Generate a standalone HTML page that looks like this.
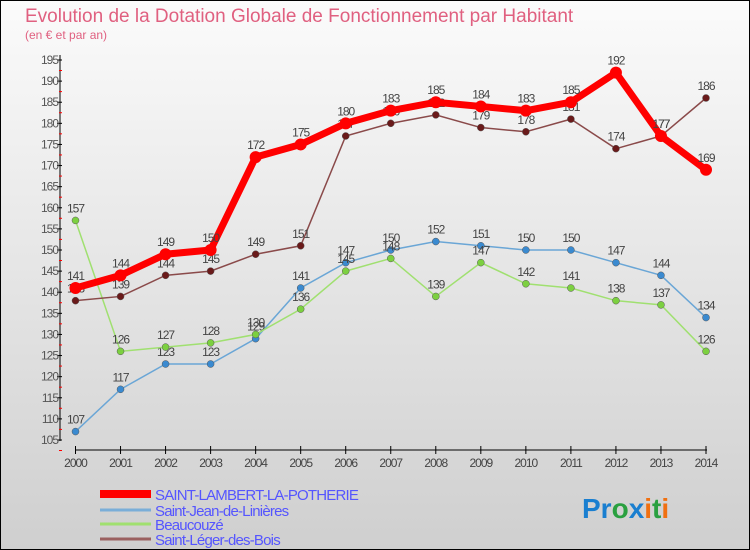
<!DOCTYPE html>
<html><head><meta charset="utf-8"><style>
body{margin:0}
svg{display:block;font-family:"Liberation Sans",sans-serif}
</style></head><body>
<svg width="750" height="550" viewBox="0 0 750 550">
<defs><linearGradient id="bg" x1="0" y1="0" x2="0" y2="1"><stop offset="0" stop-color="#fbfbfb"/><stop offset="1" stop-color="#cfcfcf"/></linearGradient></defs>
<rect x="0.5" y="0.5" width="749" height="549" fill="url(#bg)" stroke="#000"/>
<text x="25" y="22" font-size="19" fill="#e06080">Evolution de la Dotation Globale de Fonctionnement par Habitant</text>
<text x="25" y="39" font-size="12" fill="#e06080">(en € et par an)</text>
<g id="axes"></g>
<g id="series"></g>
<g id="legend"></g>
<text x="582" y="518" font-size="28" font-weight="bold"><tspan fill="#1a7fd0">Pr</tspan><tspan fill="#2aa040">o</tspan><tspan fill="#1a7fd0">x</tspan><tspan fill="#f07010">i</tspan><tspan fill="#2aa040">t</tspan><tspan fill="#f07010">i</tspan></text>
</svg>
<script>
const years=[2000,2001,2002,2003,2004,2005,2006,2007,2008,2009,2010,2011,2012,2013,2014];
const yTicks=[105,110,115,120,125,130,135,140,145,150,155,160,165,170,175,180,185,190,195];
const names=["SAINT-LAMBERT-LA-POTHERIE","Saint-Jean-de-Linières","Beaucouzé","Saint-Léger-des-Bois"];
const redVals=[141,144,149,150,172,175,180,183,185,184,183,185,192,177,169];
const blueVals=[107,117,123,123,129,141,147,150,152,151,150,150,147,144,134];
const greenVals=[157,126,127,128,130,136,145,148,139,147,142,141,138,137,126];
const brownVals=[138,139,144,145,149,151,177,180,182,179,178,181,174,177,186];
const NS="http://www.w3.org/2000/svg";
const xs=i=>75.5+i*(706-75.5)/(years.length-1);
const ys=v=>440-(v-105)*(380/90);
function mk(t,a,p){const e=document.createElementNS(NS,t);for(const k in a)e.setAttribute(k,a[k]);p.appendChild(e);return e;}
const ax=document.getElementById('axes');
let l=mk('line',{x1:60,y1:55,x2:60,y2:441,stroke:'#000'},ax);

l=mk('line',{x1:75,y1:450,x2:707,y2:450,stroke:'#000'},ax);

yTicks.forEach(v=>{const y=ys(v);mk('line',{x1:57,y1:y,x2:62,y2:y,stroke:'#000'},ax);
mk('line',{x1:59,y1:y+10.5,x2:62,y2:y+10.5,stroke:'#f00'},ax);
const t=mk('text',{x:58,y:y+4,'font-size':12,fill:'#555','text-anchor':'end','letter-spacing':'-1'},ax);t.textContent=v;
});
years.forEach((yr,i)=>{const x=xs(i);mk('line',{x1:x,y1:446,x2:x,y2:454,stroke:'#000'},ax);
const t=mk('text',{x:x,y:467,'font-size':12,fill:'#444','text-anchor':'middle','letter-spacing':'-1'},ax);t.textContent=yr;
});
const sg=document.getElementById('series');
const defs=[[blueVals,'#6aa6d6','#3a8ad0',1.5,3.5],[greenVals,'#a0e070','#7cd040',1.5,3.5],[brownVals,'#8a4a4a','#6a1a1a',1.5,3.5],[redVals,'#f00','#f00',7,6]];
const order=[1,2,3,0];
defs.forEach((d,k)=>{const g=mk('g',{},sg);
const vals=d[0];const p=mk('polyline',{points:vals.map((v,i)=>xs(i)+','+ys(v)).join(' '),fill:'none',stroke:d[1],'stroke-width':d[3]},g);

vals.forEach((v,i)=>{const c=mk('circle',{cx:xs(i),cy:ys(v),r:d[4],fill:d[2],stroke:'#555','stroke-width':k==3?0:0.5},g);

const t=mk('text',{x:xs(i),y:ys(v)-8,'font-size':12,fill:'#444','text-anchor':'middle','letter-spacing':'-1'},g);t.textContent=v;
});});
const lg=document.getElementById('legend');
const lc=['#f00','#7aaed8','#a0e070','#9a6060'],lw=[8,3,3,3];
names.forEach((n,i)=>{const y=524-[0,10,24,38][3-i]+ (i==0?-30:0);});
[[494,0],[510,1],[524,2],[539,3]].forEach(([y,i])=>{
const r=mk('line',{x1:100,y1:y,x2:151,y2:y,stroke:lc[i],'stroke-width':lw[i]},lg);

const t=mk('text',{x:155,y:y+6,'font-size':15,fill:'#5555ff','letter-spacing':'-0.8'},lg);t.textContent=names[i];
});
</script>
</body></html>
